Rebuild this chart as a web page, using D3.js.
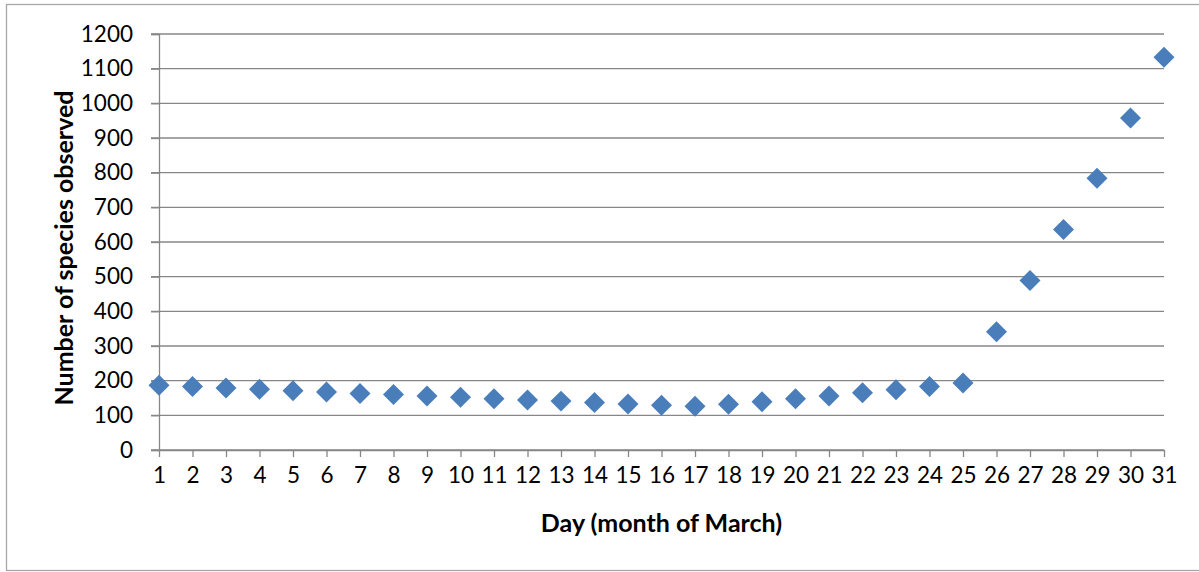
<!DOCTYPE html>
<html>
<head>
<meta charset="utf-8">
<script src="https://cdn.jsdelivr.net/npm/d3@7"></script>
<style>
  html, body { margin: 0; padding: 0; background: #fff; }
  svg { display: block; }
  text { font-family: Lato, "Open Sans", sans-serif; fill: #000; }
</style>
</head>
<body>
<svg id="chart" width="1199" height="572"></svg>
<script>
const days = d3.range(1, 32);
const species = [187, 183, 179, 175, 171, 167, 163, 160, 156, 152, 148, 144, 141, 137, 133, 129, 126, 132, 139, 148, 156, 165, 174, 183, 193, 341, 489, 636, 784, 958, 1133];
const yTicks = [0, 100, 200, 300, 400, 500, 600, 700, 800, 900, 1000, 1100, 1200];
const xTitle = "Day (month of March)";
const yTitle = "Number of species observed";

const svg = d3.select("#chart");
const W = 1199, H = 572;
const margin = { left: 159, right: W - 1164, top: 34, bottom: H - 450 };

// outer frame
svg.append("rect")
  .attr("x", 6.5).attr("y", 4.5)
  .attr("width", W + 10).attr("height", 566)
  .attr("fill", "#fff").attr("stroke", "#a6a6a6").attr("stroke-width", 1.3);

const x = d3.scaleLinear().domain([1, 31]).range([margin.left, W - margin.right]);
const y = d3.scaleLinear().domain([0, 1200]).range([H - margin.bottom, margin.top]);

const gridColor = "#878787";

// horizontal gridlines
svg.append("g")
  .selectAll("line")
  .data(yTicks)
  .join("line")
  .attr("x1", x(1) - 8).attr("x2", x(31))
  .attr("y1", d => y(d)).attr("y2", d => y(d))
  .attr("stroke", gridColor).attr("stroke-width", 1.3);

// y axis
const yAxis = d3.axisLeft(y).tickValues(yTicks).tickFormat(d3.format("d")).tickSize(8).tickPadding(18);
const gy = svg.append("g").attr("transform", `translate(${x(1)},0)`).call(yAxis);
gy.select(".domain").attr("stroke", gridColor).attr("stroke-width", 1.3);
gy.selectAll(".tick line").attr("stroke", gridColor).attr("stroke-width", 1.3);
gy.selectAll(".tick text").style("font-size", "22.5px").style("font-family", "Lato, sans-serif").attr("fill", "#000");

// x axis
const xAxis = d3.axisBottom(x).tickValues(days).tickFormat(d3.format("d")).tickSize(7).tickSizeOuter(0).tickPadding(10);
const gx = svg.append("g").attr("transform", `translate(0,${y(0)})`).call(xAxis);
gx.select(".domain").attr("stroke", gridColor).attr("stroke-width", 1.3);
gx.selectAll(".tick line").attr("stroke", gridColor).attr("stroke-width", 1.3);
gx.selectAll(".tick text").style("font-size", "22.5px").style("font-family", "Lato, sans-serif").attr("fill", "#000");

// markers (diamonds)
const diamond = d3.symbol().type(d3.symbolSquare).size(220);
svg.append("g")
  .selectAll("path")
  .data(days.map((d, i) => ({ day: d, value: species[i] })))
  .join("path")
  .attr("d", diamond)
  .attr("transform", d => `translate(${x(d.day)},${y(d.value)}) rotate(45)`)
  .attr("fill", "#4a7ebb");

// axis titles
svg.append("text")
  .attr("x", (x(1) + x(31)) / 2).attr("y", 532)
  .attr("text-anchor", "middle")
  .style("font-size", "25px").style("font-weight", "bold")
  .text(xTitle);

svg.append("text")
  .attr("transform", `translate(73,${(y(0) + y(1200)) / 2 + 6}) rotate(-90)`)
  .attr("text-anchor", "middle")
  .style("font-size", "25px").style("font-weight", "bold")
  .text(yTitle);
</script>
</body>
</html>
